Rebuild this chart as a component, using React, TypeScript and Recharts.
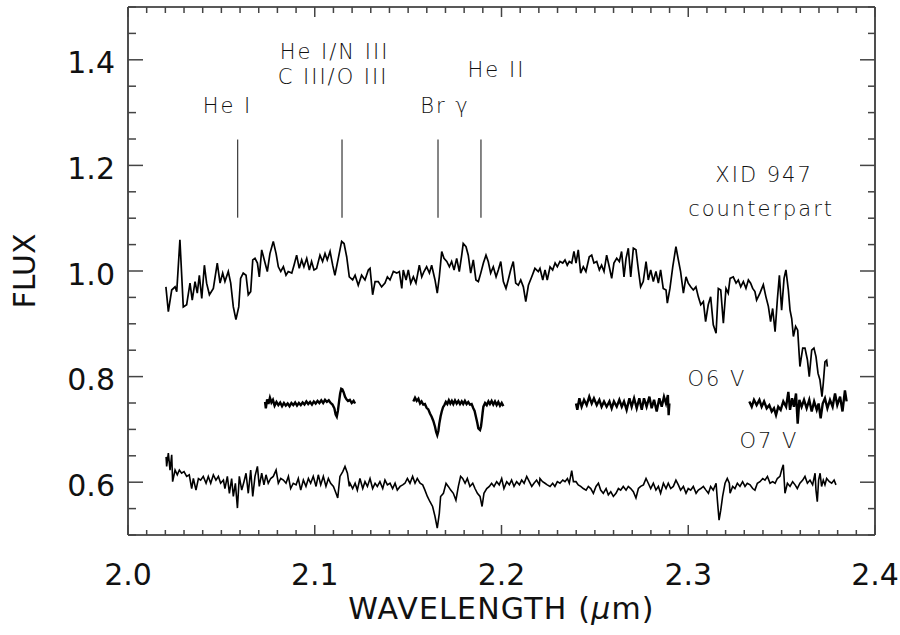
import { LineChart, Line, XAxis, YAxis, ReferenceLine, ReferenceDot } from "recharts";

// XID 947 counterpart spectrum (upper)
const xidWave = [
  2.0203, 2.0216, 2.0234, 2.0252, 2.0261, 2.0278, 2.0296, 2.0314, 2.0332, 2.0344,
  2.0359, 2.0371, 2.0382, 2.0395, 2.0409, 2.0421, 2.0436, 2.0457, 2.0478, 2.0493,
  2.0507, 2.0519, 2.0537, 2.055, 2.0564, 2.0578, 2.0593, 2.0603, 2.0617, 2.0632,
  2.0644, 2.0657, 2.0668, 2.068, 2.0693, 2.0703, 2.0716, 2.0734, 2.0746, 2.076,
  2.0778, 2.0793, 2.0805, 2.0818, 2.0832, 2.0846, 2.0858, 2.0877, 2.0889, 2.0903,
  2.0917, 2.093, 2.0942, 2.0957, 2.0971, 2.0983, 2.0996, 2.101, 2.1028, 2.1042,
  2.1055, 2.1067, 2.1082, 2.1096, 2.1108, 2.1126, 2.1144, 2.1157, 2.1171, 2.1185,
  2.1203, 2.1216, 2.1233, 2.1251, 2.1269, 2.1287, 2.1296, 2.131, 2.1323, 2.134,
  2.1358, 2.1376, 2.1389, 2.1403, 2.1421, 2.1439, 2.1453, 2.1466, 2.1474, 2.1489,
  2.1501, 2.1514, 2.1528, 2.1542, 2.156, 2.1573, 2.1585, 2.1599, 2.1614, 2.1626,
  2.1644, 2.1656, 2.1667, 2.168, 2.1692, 2.1707, 2.1721, 2.1733, 2.1746, 2.176,
  2.1774, 2.1787, 2.1795, 2.181, 2.1822, 2.1835, 2.1849, 2.1863, 2.1876, 2.1889,
  2.1903, 2.1917, 2.1929, 2.1942, 2.1956, 2.1971, 2.1983, 2.1996, 2.201, 2.2024,
  2.2036, 2.2049, 2.2063, 2.2076, 2.209, 2.2103, 2.2117, 2.213, 2.2144, 2.2162,
  2.2179, 2.2197, 2.2206, 2.2221, 2.2233, 2.2245, 2.226, 2.2274, 2.2287, 2.2299,
  2.2313, 2.2328, 2.234, 2.2352, 2.2363, 2.2376, 2.2388, 2.2399, 2.2411, 2.2424,
  2.2438, 2.2452, 2.247, 2.2483, 2.2495, 2.251, 2.2524, 2.2536, 2.2549, 2.2563,
  2.2577, 2.259, 2.2602, 2.2617, 2.2631, 2.2643, 2.2656, 2.2667, 2.2679, 2.2692,
  2.2706, 2.272, 2.2733, 2.2745, 2.2759, 2.2774, 2.2786, 2.2799, 2.2813, 2.2827,
  2.284, 2.2852, 2.2866, 2.2881, 2.2888, 2.2902, 2.2917, 2.2934, 2.2947, 2.2959,
  2.2974, 2.2988, 2.3, 2.3013, 2.3027, 2.3041, 2.3054, 2.3067, 2.3081, 2.3093,
  2.3107, 2.312, 2.3134, 2.3149, 2.3161, 2.3174, 2.3188, 2.3202, 2.3214, 2.3224,
  2.3241, 2.3256, 2.3268, 2.3281, 2.3295, 2.3309, 2.3322, 2.3334, 2.3345, 2.3357,
  2.3366, 2.3384, 2.3402, 2.3416, 2.3429, 2.3441, 2.3452, 2.3465, 2.3477, 2.3488,
  2.35, 2.3513, 2.3523, 2.3536, 2.3545, 2.3554, 2.3563, 2.3575, 2.3586, 2.3598,
  2.3613, 2.3625, 2.3638, 2.3648, 2.3661, 2.3673, 2.3684, 2.3695, 2.3705, 2.3716,
  2.3723, 2.3732, 2.3741, 2.3745,
];
const xidFlux = [
  0.97, 0.923, 0.964, 0.97, 0.961, 1.059, 0.932, 0.936, 0.977, 0.945,
  0.98, 0.958, 0.992, 0.948, 1.011, 0.977, 0.955, 0.967, 1.015, 0.977,
  0.996, 0.98, 0.999, 0.977, 0.932, 0.908, 0.932, 0.986, 0.996, 0.992,
  0.955, 0.961, 1.021, 1.024, 1.015, 0.989, 1.04, 1.015, 0.999, 1.033,
  1.056, 1.033, 1.008, 0.999, 1.008, 0.992, 0.999, 0.996, 1.011, 1.03,
  1.005, 1.021, 1.008, 1.024, 1.002, 1.018, 1.002, 1.005, 1.03, 1.018,
  1.033, 1.021, 1.037, 1.011, 0.992, 1.024, 1.056, 1.052, 1.027, 0.989,
  0.983, 0.992, 0.973, 0.992, 0.983, 1.002, 1.005, 0.955, 0.98, 0.98,
  0.97, 0.977, 0.989, 0.983, 0.999, 0.996, 0.999, 0.967, 1.002, 0.983,
  1.002, 0.977, 0.989, 0.977, 1.011, 0.989, 0.999, 1.008, 0.996, 1.011,
  0.983, 0.958, 0.989, 1.037, 1.024, 1.018, 1.008, 1.018, 1.002, 1.024,
  0.999, 1.03, 1.052, 1.046, 1.03, 0.996, 1.021, 0.983, 0.98, 0.996,
  1.015, 1.03, 1.018, 0.996, 1.008, 0.989, 1.002, 1.018, 0.98, 0.967,
  0.983, 1.002, 1.018, 0.977, 0.973, 0.983, 0.97, 0.942, 0.973, 0.989,
  1.005, 0.999, 1.005, 0.983, 1.002, 0.983, 1.008, 1.002, 1.015, 1.008,
  1.018, 1.015, 1.021, 1.011, 1.018, 1.015, 1.037, 1.015, 1.04, 0.996,
  1.008, 0.999, 1.027, 1.03, 1.015, 1.018, 1.002, 1.011, 0.999, 1.03,
  1.008, 0.986, 1.015, 1.024, 1.018, 1.037, 0.989, 1.024, 1.043, 0.989,
  1.043, 1.04, 1.002, 0.97, 0.98, 1.018, 0.983, 1.002, 0.98, 0.999,
  0.977, 1.002, 0.967, 0.964, 0.939, 0.967, 1.008, 1.046, 1.021, 0.999,
  0.958, 0.989, 0.977, 0.97, 0.964, 0.97, 0.951, 0.936, 0.942, 0.904,
  0.936, 0.951, 0.898, 0.882, 0.967, 0.964, 0.901, 0.967, 0.958, 0.986,
  0.989, 0.977, 0.983, 0.97, 0.98, 0.967, 0.983, 0.977, 0.967, 0.961,
  0.945, 0.958, 0.974, 0.951, 0.933, 0.904, 0.929, 0.885, 0.945, 0.992,
  0.926, 0.986, 1.002, 0.964, 0.926, 0.91, 0.876, 0.895, 0.888, 0.819,
  0.854, 0.854, 0.832, 0.8, 0.85, 0.854, 0.838, 0.806, 0.794, 0.762,
  0.787, 0.828, 0.831, 0.819,
];

// O6 V template, four observed windows
const o6Wave1 = [
  2.0734, 2.0738, 2.0745, 2.0752, 2.076, 2.0768, 2.0776, 2.0785, 2.0795, 2.0805,
  2.0815, 2.0825, 2.0835, 2.0845, 2.0855, 2.0865, 2.0875, 2.0885, 2.0895, 2.0905,
  2.0915, 2.0925, 2.0935, 2.0945, 2.0955, 2.0965, 2.0975, 2.0985, 2.0995, 2.1005,
  2.1015, 2.1025, 2.1035, 2.1045, 2.1055, 2.1065, 2.1075, 2.1085, 2.1095, 2.1105,
  2.1112, 2.1118, 2.1124, 2.113, 2.1136, 2.1142, 2.1148, 2.1155, 2.1162, 2.117,
  2.1178, 2.1188, 2.1198, 2.1208, 2.1216,
];
const o6Flux1 = [
  0.752, 0.74, 0.757, 0.748, 0.76, 0.751, 0.756, 0.745, 0.752, 0.746,
  0.751, 0.744, 0.75, 0.745, 0.749, 0.744, 0.75, 0.746, 0.751, 0.745,
  0.75, 0.746, 0.751, 0.747, 0.753, 0.748, 0.752, 0.747, 0.753, 0.749,
  0.754, 0.75, 0.755, 0.75, 0.756, 0.752, 0.755, 0.75, 0.747, 0.74,
  0.728, 0.724, 0.735, 0.752, 0.768, 0.777, 0.776, 0.77, 0.762, 0.757,
  0.754, 0.756, 0.75, 0.754, 0.749,
];
const o6Wave2 = [
  2.1528, 2.1537, 2.1546, 2.1555, 2.1564, 2.1572, 2.1581, 2.159, 2.1599, 2.1608,
  2.1617, 2.1626, 2.1635, 2.1644, 2.165, 2.1656, 2.1662, 2.1667, 2.1674, 2.168,
  2.1687, 2.1694, 2.1702, 2.171, 2.1718, 2.1726, 2.1734, 2.1742, 2.1751, 2.176,
  2.1769, 2.1778, 2.1787, 2.1795, 2.1804, 2.1813, 2.1822, 2.1831, 2.184, 2.1849,
  2.1856, 2.1863, 2.187, 2.1876, 2.1885, 2.189, 2.1894, 2.1899, 2.1903, 2.1912,
  2.1921, 2.193, 2.1938, 2.1947, 2.1956, 2.1965, 2.1974, 2.1983, 2.1992, 2.2001,
  2.201,
];
const o6Flux2 = [
  0.753, 0.76, 0.754, 0.758, 0.749, 0.753, 0.747, 0.748, 0.741, 0.738,
  0.73, 0.724, 0.716, 0.705, 0.695, 0.689, 0.697, 0.711, 0.725, 0.734,
  0.742, 0.746, 0.752, 0.748, 0.755, 0.749, 0.754, 0.748, 0.755, 0.749,
  0.754, 0.748, 0.753, 0.748, 0.754, 0.748, 0.752, 0.747, 0.748, 0.74,
  0.735, 0.724, 0.713, 0.702, 0.699, 0.705, 0.716, 0.732, 0.743, 0.75,
  0.746, 0.753, 0.748, 0.754, 0.747, 0.753, 0.746, 0.752, 0.745, 0.75,
  0.744,
];
const o6Wave3 = [
  2.2399, 2.2406, 2.2417, 2.2429, 2.2442, 2.2456, 2.247, 2.2483, 2.2495, 2.251,
  2.2524, 2.2536, 2.2549, 2.2563, 2.2578, 2.259, 2.2602, 2.2617, 2.2631, 2.2644,
  2.2656, 2.267, 2.2685, 2.2697, 2.271, 2.2724, 2.2738, 2.2751, 2.2763, 2.2777,
  2.2792, 2.2804, 2.2817, 2.2831, 2.2845, 2.2858, 2.287, 2.2881, 2.2891, 2.2895,
  2.2899,
];
const o6Flux3 = [
  0.749, 0.737, 0.759, 0.743, 0.756, 0.746, 0.762, 0.749, 0.759, 0.746,
  0.756, 0.743, 0.753, 0.743, 0.753, 0.74, 0.753, 0.743, 0.756, 0.743,
  0.753, 0.737, 0.759, 0.743, 0.759, 0.74, 0.759, 0.737, 0.759, 0.743,
  0.762, 0.74, 0.756, 0.734, 0.759, 0.743, 0.762, 0.749, 0.765, 0.727,
  0.749,
];
const o6Wave4 = [
  2.3327, 2.334, 2.3352, 2.3366, 2.3381, 2.3393, 2.3406, 2.342, 2.3434, 2.3447,
  2.3459, 2.347, 2.3482, 2.3495, 2.3509, 2.3524, 2.3536, 2.3545, 2.3556, 2.3566,
  2.3577, 2.3586, 2.3595, 2.3607, 2.362, 2.3634, 2.3648, 2.3661, 2.3674, 2.3688,
  2.3698, 2.3709, 2.372, 2.3732, 2.3745, 2.3759, 2.3773, 2.3786, 2.3798, 2.3813,
  2.3826, 2.3839, 2.3848,
];
const o6Flux4 = [
  0.753, 0.743, 0.756, 0.746, 0.756, 0.743, 0.753, 0.74, 0.746, 0.734,
  0.74, 0.727, 0.743, 0.737, 0.753, 0.743, 0.771, 0.737, 0.759, 0.743,
  0.768, 0.711, 0.756, 0.743, 0.756, 0.74, 0.756, 0.734, 0.753, 0.737,
  0.749, 0.721, 0.749, 0.759, 0.74, 0.756, 0.743, 0.768, 0.746, 0.762,
  0.734, 0.774, 0.753,
];

// O7 V template (lower)
const o7Wave = [
  2.0204, 2.0207, 2.0216, 2.0225, 2.0234, 2.0239, 2.0252, 2.0264, 2.0275, 2.0287,
  2.03, 2.0314, 2.0328, 2.0341, 2.035, 2.0364, 2.0377, 2.0389, 2.0403, 2.0418,
  2.043, 2.0443, 2.0457, 2.0471, 2.0484, 2.0496, 2.0511, 2.0519, 2.0532, 2.0543,
  2.0555, 2.0564, 2.0575, 2.0586, 2.0596, 2.0609, 2.0621, 2.0632, 2.0644, 2.0657,
  2.0668, 2.068, 2.0693, 2.0703, 2.0716, 2.0728, 2.0739, 2.0751, 2.0764, 2.0778,
  2.0793, 2.0805, 2.0818, 2.0832, 2.0846, 2.0859, 2.0871, 2.0885, 2.09, 2.0912,
  2.0925, 2.0939, 2.0953, 2.0966, 2.0978, 2.0992, 2.1007, 2.1019, 2.1032, 2.1046,
  2.106, 2.1073, 2.1085, 2.11, 2.1114, 2.1123, 2.1135, 2.115, 2.1162, 2.1175,
  2.1185, 2.1189, 2.1203, 2.1216, 2.1228, 2.1242, 2.1257, 2.1269, 2.1282, 2.1296,
  2.131, 2.1323, 2.1335, 2.1349, 2.1364, 2.1376, 2.1389, 2.1403, 2.1417, 2.143,
  2.1442, 2.1457, 2.1471, 2.1483, 2.1496, 2.151, 2.1524, 2.1537, 2.1549, 2.1564,
  2.1578, 2.159, 2.1603, 2.1617, 2.1631, 2.1644, 2.1656, 2.1667, 2.1674, 2.1689,
  2.1703, 2.1715, 2.1728, 2.1742, 2.1756, 2.1769, 2.1781, 2.1792, 2.1805, 2.1817,
  2.1831, 2.1846, 2.1858, 2.1871, 2.1885, 2.1896, 2.1906, 2.1921, 2.1935, 2.1947,
  2.196, 2.1974, 2.1988, 2.2001, 2.2013, 2.2028, 2.2042, 2.2054, 2.2067, 2.2081,
  2.2096, 2.2108, 2.2121, 2.2135, 2.2149, 2.2162, 2.2174, 2.2188, 2.2203, 2.2206,
  2.222, 2.2233, 2.2245, 2.226, 2.2274, 2.2286, 2.2299, 2.2313, 2.2328, 2.234,
  2.2353, 2.2363, 2.2376, 2.2385, 2.2399, 2.2411, 2.2424, 2.2438, 2.2453, 2.2465,
  2.2478, 2.2492, 2.2506, 2.2519, 2.2531, 2.2545, 2.256, 2.2572, 2.2585, 2.2599,
  2.2613, 2.2626, 2.2638, 2.2652, 2.2667, 2.2679, 2.2692, 2.2706, 2.272, 2.2733,
  2.2745, 2.276, 2.2774, 2.2786, 2.2799, 2.2813, 2.2827, 2.284, 2.2852, 2.2867,
  2.2881, 2.2893, 2.2906, 2.292, 2.2934, 2.2947, 2.2959, 2.2974, 2.2988, 2.3,
  2.3013, 2.3027, 2.3042, 2.3054, 2.3067, 2.3081, 2.3095, 2.3108, 2.312, 2.3134,
  2.3149, 2.3156, 2.3165, 2.3174, 2.3184, 2.3197, 2.3209, 2.322, 2.3224, 2.3238,
  2.325, 2.3263, 2.3277, 2.3291, 2.3304, 2.3316, 2.3331, 2.3345, 2.3357, 2.337,
  2.3384, 2.3399, 2.3411, 2.3424, 2.3438, 2.3452, 2.3465, 2.3477, 2.3491, 2.35,
  2.3509, 2.3518, 2.3531, 2.3545, 2.3559, 2.3572, 2.3584, 2.3598, 2.3613, 2.3625,
  2.3638, 2.3652, 2.3666, 2.3679, 2.3684, 2.3691, 2.3698, 2.3706, 2.3714, 2.3723,
  2.3732, 2.3741, 2.3756, 2.3768, 2.3781, 2.3791,
];
const o7Flux = [
  0.648, 0.63, 0.655, 0.623, 0.652, 0.601, 0.623, 0.614, 0.623, 0.617,
  0.62, 0.611, 0.614, 0.588, 0.607, 0.585, 0.607, 0.604, 0.611, 0.598,
  0.611, 0.598, 0.614, 0.604, 0.611, 0.598, 0.604, 0.588, 0.611, 0.579,
  0.607, 0.573, 0.598, 0.551, 0.611, 0.585, 0.601, 0.617, 0.579, 0.623,
  0.573, 0.611, 0.63, 0.592, 0.617, 0.595, 0.614, 0.598, 0.607, 0.611,
  0.623, 0.598, 0.607, 0.604, 0.598, 0.611, 0.588, 0.598, 0.595, 0.607,
  0.585, 0.604, 0.592, 0.607, 0.598, 0.611, 0.592, 0.614, 0.595, 0.611,
  0.592, 0.607, 0.598, 0.592, 0.579, 0.57, 0.611, 0.62, 0.63, 0.617,
  0.592, 0.598, 0.588, 0.598, 0.585, 0.607, 0.588, 0.601, 0.592, 0.607,
  0.588, 0.598, 0.592, 0.601, 0.588, 0.604, 0.595, 0.598, 0.588, 0.598,
  0.585, 0.592, 0.595, 0.598, 0.607, 0.598, 0.611, 0.598, 0.607, 0.598,
  0.595, 0.585, 0.573, 0.563, 0.554, 0.535, 0.513, 0.541, 0.573, 0.579,
  0.598, 0.592, 0.585, 0.579, 0.566, 0.592, 0.611, 0.607, 0.598, 0.607,
  0.592, 0.598, 0.588, 0.579, 0.573, 0.554, 0.579, 0.588, 0.592, 0.598,
  0.592, 0.601, 0.595, 0.607, 0.588, 0.601, 0.595, 0.604, 0.592, 0.601,
  0.595, 0.604, 0.598, 0.611, 0.601, 0.592, 0.598, 0.604, 0.595, 0.607,
  0.601, 0.598, 0.595, 0.592, 0.598, 0.592, 0.601, 0.598, 0.604, 0.601,
  0.607, 0.598, 0.622, 0.601, 0.601, 0.595, 0.592, 0.588, 0.585, 0.592,
  0.588, 0.579, 0.592, 0.598, 0.585, 0.579, 0.588, 0.576, 0.582, 0.573,
  0.579, 0.588, 0.585, 0.592, 0.585, 0.592, 0.588, 0.582, 0.57, 0.588,
  0.592, 0.595, 0.607, 0.598, 0.588, 0.598, 0.585, 0.592, 0.579, 0.598,
  0.588, 0.598, 0.588, 0.592, 0.604, 0.595, 0.585, 0.592, 0.579, 0.588,
  0.585, 0.592, 0.579, 0.585, 0.588, 0.592, 0.585, 0.579, 0.592, 0.585,
  0.598, 0.566, 0.528, 0.547, 0.573, 0.598, 0.607, 0.598, 0.579, 0.592,
  0.588, 0.598, 0.592, 0.601, 0.592, 0.598, 0.595, 0.588, 0.585, 0.598,
  0.601, 0.607, 0.604, 0.611, 0.598, 0.601, 0.598, 0.607, 0.611, 0.623,
  0.633, 0.579, 0.598, 0.592, 0.601, 0.595, 0.588, 0.598, 0.604, 0.611,
  0.598, 0.604, 0.595, 0.617, 0.585, 0.563, 0.604, 0.617, 0.592, 0.604,
  0.595, 0.607, 0.601, 0.598, 0.604, 0.595,
];

// axes
const xTicks = [
  2.0, 2.01, 2.02, 2.03, 2.04, 2.05, 2.06, 2.07, 2.08, 2.09,
  2.1, 2.11, 2.12, 2.13, 2.14, 2.15, 2.16, 2.17, 2.18, 2.19,
  2.2, 2.21, 2.22, 2.23, 2.24, 2.25, 2.26, 2.27, 2.28, 2.29,
  2.3, 2.31, 2.32, 2.33, 2.34, 2.35, 2.36, 2.37, 2.38, 2.39, 2.4,
];
const xLabelled = [2.0, 2.1, 2.2, 2.3, 2.4];
const yTicks = [
  0.5, 0.55, 0.6, 0.65, 0.7, 0.75, 0.8, 0.85, 0.9, 0.95, 1.0,
  1.05, 1.1, 1.15, 1.2, 1.25, 1.3, 1.35, 1.4, 1.45, 1.5,
];
const yLabelled = [0.6, 0.8, 1.0, 1.2, 1.4];

// line identifications
const featureWave = [2.0587, 2.1146, 2.166, 2.189];
const markBottom = 1.101;
const markTop = 1.249;

const noteText = ["He I", "He I/N III", "C III/O III", "Br γ", "He II", "XID 947", "counterpart", "O6 V", "O7 V"];
const noteWave = [2.0533, 2.1106, 2.1098, 2.1697, 2.1973, 2.3406, 2.339, 2.3154, 2.3432];
const noteFlux = [1.314, 1.416, 1.368, 1.314, 1.382, 1.182, 1.119, 0.797, 0.68];

const toRows = (w: number[], f: number[]) => w.map((x, i) => ({ w: x, f: f[i] }));

const xidData = toRows(xidWave, xidFlux);
const o6Data = [
  toRows(o6Wave1, o6Flux1),
  toRows(o6Wave2, o6Flux2),
  toRows(o6Wave3, o6Flux3),
  toRows(o6Wave4, o6Flux4),
];
const o7Data = toRows(o7Wave, o7Flux);

const near = (a: number, list: number[]) => list.some((b) => Math.abs(a - b) < 1e-6);
const isMajorX = (v: number) => near(v, xLabelled);
const isMajorY = (v: number) => near(v, yLabelled);

const tickFont = { fontFamily: "'DejaVu Sans', sans-serif", fontSize: 30, fill: "#111" };
const noteFont = { fontFamily: "'DejaVu Sans', sans-serif", fontSize: 21, fontWeight: 200, fill: "#111", letterSpacing: 2 };
const tickStroke = "#444";

function BottomTick({ x, y, payload }: any) {
  const major = isMajorX(payload.value);
  return (
    <g>
      <line x1={x} x2={x} y1={y} y2={y - (major ? 10 : 5)} stroke={tickStroke} strokeWidth={1.5} />
      {major && (
        <text x={x} y={y + 50} textAnchor="middle" style={tickFont}>
          {payload.value.toFixed(1)}
        </text>
      )}
    </g>
  );
}

function TopTick({ x, y, payload }: any) {
  const major = isMajorX(payload.value);
  return <line x1={x} x2={x} y1={y} y2={y + (major ? 10 : 6)} stroke={tickStroke} strokeWidth={1.5} />;
}

function LeftTick({ x, y, payload }: any) {
  const major = isMajorY(payload.value);
  return (
    <g>
      <line x1={x} x2={x + (major ? 15 : 8)} y1={y} y2={y} stroke={tickStroke} strokeWidth={1.5} />
      {major && (
        <text x={x - 13} y={y + 13.5} textAnchor="end" style={tickFont}>
          {payload.value.toFixed(1)}
        </text>
      )}
    </g>
  );
}

function RightTick({ x, y, payload }: any) {
  const major = isMajorY(payload.value);
  return <line x1={x} x2={x - (major ? 15 : 7)} y1={y} y2={y} stroke={tickStroke} strokeWidth={1.5} />;
}

function NoteText(text: string) {
  return (p: any) => (
    <text x={p.cx} y={p.cy} dy="0.36em" textAnchor="middle" style={noteFont}>
      {text}
    </text>
  );
}

const axisLine = { stroke: "#222", strokeWidth: 1.6 };

export default function App() {
  return (
    <div style={{ position: "absolute", left: 0, top: 0, width: 900, height: 635, background: "#fff" }}>
      <LineChart width={900} height={635} margin={{ top: 6, right: 24, bottom: 40, left: 68 }}>
        <XAxis
          dataKey="w"
          type="number"
          domain={[2.0, 2.4]}
          allowDataOverflow
          ticks={xTicks}
          interval={0}
          height={60}
          tickSize={0}
          tickMargin={0}
          tickLine={false}
          axisLine={axisLine}
          tick={BottomTick}
          label={({ viewBox }: any) => (
            <text
              x={viewBox.x + viewBox.width / 2}
              y={viewBox.y + 84}
              textAnchor="middle"
              style={{ ...tickFont, letterSpacing: 1.2 }}
            >
              WAVELENGTH (<tspan fontStyle="italic">μ</tspan>m)
            </text>
          )}
        />
        <XAxis
          xAxisId="top"
          orientation="top"
          dataKey="w"
          type="number"
          domain={[2.0, 2.4]}
          allowDataOverflow
          ticks={xTicks}
          interval={0}
          height={1}
          tickSize={0}
          tickMargin={0}
          tickLine={false}
          axisLine={axisLine}
          tick={TopTick}
        />
        <YAxis
          type="number"
          domain={[0.5, 1.5]}
          allowDataOverflow
          ticks={yTicks}
          interval={0}
          width={60}
          tickSize={0}
          tickMargin={0}
          tickLine={false}
          axisLine={axisLine}
          tick={LeftTick}
          label={({ viewBox }: any) => {
            const cx = viewBox.x + viewBox.width - 93;
            const cy = viewBox.y + viewBox.height / 2;
            return (
              <text x={cx} y={cy} textAnchor="middle" transform={`rotate(-90 ${cx} ${cy})`} style={tickFont}>
                FLUX
              </text>
            );
          }}
        />
        <YAxis
          yAxisId="right"
          orientation="right"
          type="number"
          domain={[0.5, 1.5]}
          allowDataOverflow
          ticks={yTicks}
          interval={0}
          width={1}
          tickSize={0}
          tickMargin={0}
          tickLine={false}
          axisLine={axisLine}
          tick={RightTick}
        />

        {featureWave.map((w) => (
          <ReferenceLine
            key={w}
            segment={[
              { x: w, y: markBottom },
              { x: w, y: markTop },
            ]}
            stroke="#444"
            strokeWidth={1.3}
          />
        ))}

        {noteText.map((t, i) => (
          <ReferenceDot key={t} x={noteWave[i]} y={noteFlux[i]} r={0} shape={NoteText(t)} />
        ))}

        <Line data={xidData} dataKey="f" type="linear" stroke="#000" strokeWidth={1.7} dot={false} isAnimationActive={false} />
        {o6Data.map((d, i) => (
          <Line key={i} data={d} dataKey="f" type="linear" stroke="#000" strokeWidth={2.4} dot={false} isAnimationActive={false} />
        ))}
        <Line data={o7Data} dataKey="f" type="linear" stroke="#000" strokeWidth={1.6} dot={false} isAnimationActive={false} />
      </LineChart>
    </div>
  );
}
